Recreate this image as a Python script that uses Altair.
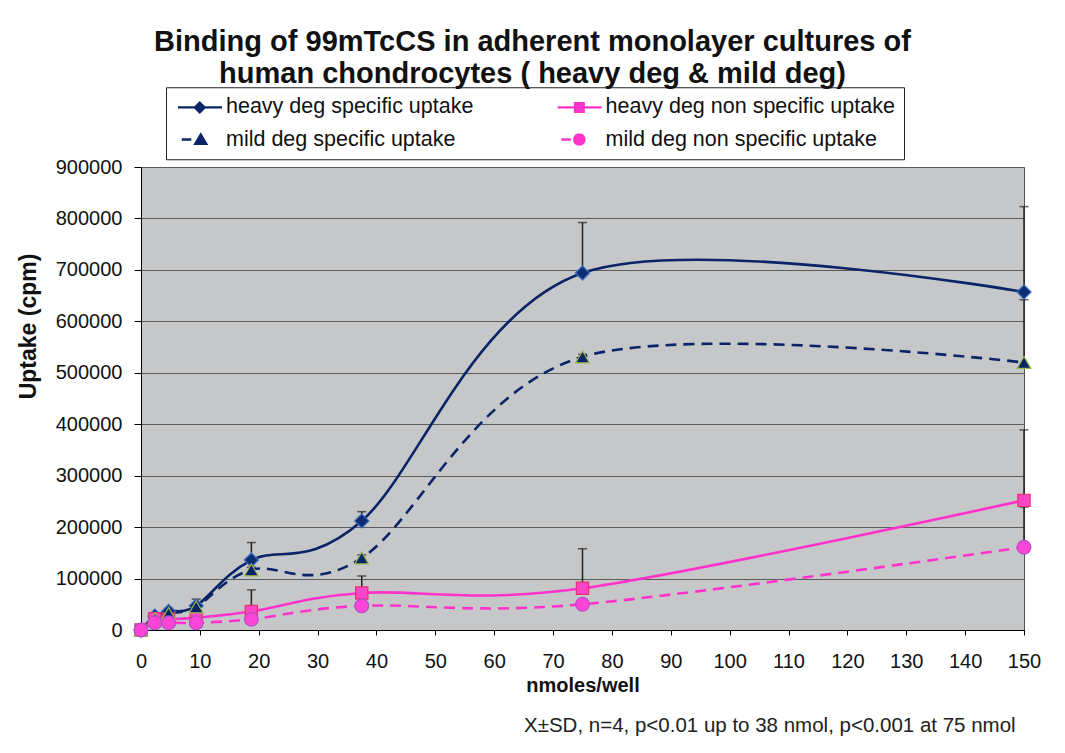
import altair as alt
import pandas as pd

# ---------------- data ----------------
title_lines = ["Binding of 99mTcCS in adherent monolayer cultures of",
               "human chondrocytes ( heavy deg & mild deg)"]
x_title = "nmoles/well"
y_title = "Uptake (cpm)"
footnote = "X\u00b1SD, n=4, p<0.01 up to 38 nmol, p<0.001 at 75 nmol"

series_names = ["heavy deg specific uptake", "heavy deg non specific uptake",
                "mild deg specific uptake", "mild deg non specific uptake"]

doses = [0, 2.34, 4.69, 9.38, 18.75, 37.5, 75, 150]

heavy_spec = [0, 27000, 36000, 47000, 136000, 212000, 694000, 657000]
heavy_nonspec = [0, 22000, 21000, 24000, 36000, 72000, 81000, 252000]
mild_spec = [0, 22000, 32000, 45000, 117000, 140000, 531000, 520000]
mild_nonspec = [0, 14000, 14000, 14000, 21000, 47000, 50000, 161000]

heavy_spec_sd = [0, 5000, 6000, 13000, 34000, 18000, 98000, 166000]
heavy_nonspec_sd = [0, 3000, 3000, 4000, 42000, 33000, 77000, 137000]
mild_spec_sd = [0, 3000, 4000, 5000, 5000, 6000, 5000, 122000]
mild_nonspec_sd = [0, 2000, 2000, 2000, 3000, 3000, 3000, 78000]

x_ticks = list(range(0, 151, 10))
y_ticks = list(range(0, 900001, 100000))

# ---------------- styling ----------------
FONT = "Liberation Sans"
NAVY = "#0A2468"
PINK = "#FF33CC"
line_colors = [NAVY, PINK, NAVY, PINK]
dashes = [None, None, [11, 7], [11, 7]]

marker_styles = {
    "heavy deg specific uptake": dict(shape="diamond", fill="#0D2D72", stroke="#3C6CC0", size=200),
    "heavy deg non specific uptake": dict(shape="square", fill="#FF44C8", stroke="#E8326E", size=150),
    "mild deg specific uptake": dict(shape="triangle-up", fill="#0A2468", stroke="#9BBB4C", size=190),
    "mild deg non specific uptake": dict(shape="circle", fill="#FF44D8", stroke="#B050C8", size=190),
}

# legend glyphs: short line segment + marker (unit = 10 px)
legend_paths = [
    "M-0.775,-0.12H3.625V0.12H-0.775Z M1.4,-0.65L2.05,0L1.4,0.65L0.75,0Z",
    "M-0.775,-0.12H3.625V0.12H-0.775Z M0.85,-0.55H1.95V0.55H0.85Z",
    "M-0.4,-0.12H0.55V0.12H-0.4Z M1.5,-0.72L2.25,0.55H0.75Z",
    "M-0.4,-0.12H0.55V0.12H-0.4Z M0.78,0A0.62,0.62 0 1,1 2.02,0A0.62,0.62 0 1,1 0.78,0Z",
]

# ---------------- table ----------------
rows = []
for name, ys, sds in [
    (series_names[0], heavy_spec, heavy_spec_sd),
    (series_names[1], heavy_nonspec, heavy_nonspec_sd),
    (series_names[2], mild_spec, mild_spec_sd),
    (series_names[3], mild_nonspec, mild_nonspec_sd),
]:
    for xv, yv, sv in zip(doses, ys, sds):
        rows.append({"series": name, "x": xv, "y": yv, "sd": sv, "upper": yv + sv})
df = pd.DataFrame(rows)

x_axis = alt.Axis(values=x_ticks, title=x_title, grid=False, labelFontSize=20,
                  labelFont=FONT, labelColor="#111", titleFont=FONT, titleFontSize=20,
                  titleFontWeight="bold", titleColor="#111", domainColor="#000",
                  tickColor="#000", tickSize=5, labelPadding=16, titlePadding=4,
                  labelFlush=False)
y_axis = alt.Axis(values=y_ticks, format="d", title=y_title, grid=True,
                  gridColor="#5C5C5C", gridWidth=1, labelFontSize=20, labelFont=FONT,
                  labelColor="#111", titleFont=FONT, titleFontSize=23,
                  titleFontWeight="bold", titleColor="#111", domainColor="#000",
                  tickColor="#000", tickSize=7, labelPadding=12,
                  titleX=-113, titleY=159, titleAngle=270, titleAlign="center",
                  titleBaseline="middle")

X = alt.X("x:Q", scale=alt.Scale(domain=[0, 150], nice=False), axis=x_axis)
Y = alt.Y("y:Q", scale=alt.Scale(domain=[0, 900000], nice=False), axis=y_axis)

base = alt.Chart(df)

err_rules = base.transform_filter("datum.sd > 0").mark_rule(
    color="#222", strokeWidth=1.5).encode(x=X, y=Y, y2="upper:Q")
err_caps = base.transform_filter("datum.sd > 0").mark_tick(
    orient="horizontal", color="#222", thickness=1.5, size=9).encode(
    x=X, y=alt.Y("upper:Q", scale=alt.Scale(domain=[0, 900000], nice=False), axis=y_axis))

line_layers = []
for name, col, dash in zip(series_names, line_colors, dashes):
    kw = dict(interpolate="cardinal", strokeWidth=2.6, color=col)
    if dash is not None:
        kw["strokeDash"] = dash
    line_layers.append(
        base.transform_filter(alt.datum.series == name).mark_line(**kw).encode(x=X, y=Y)
    )

point_layers = []
for name in series_names:
    st = marker_styles[name]
    point_layers.append(
        base.transform_filter(alt.datum.series == name).mark_point(
            shape=st["shape"], filled=True, fill=st["fill"], stroke=st["stroke"],
            strokeWidth=1.2, size=st["size"], opacity=1).encode(x=X, y=Y)
    )

legend_spec = alt.Legend(
    title=None, orient="none", legendX=25, legendY=-79.75, columns=2,
    direction="horizontal", labelLimit=0,
    labelFont=FONT, labelFontSize=21.5, labelColor="#111", symbolSize=400,
    symbolStrokeWidth=0, symbolOpacity=1, labelOffset=29.5, columnPadding=80.6,
    rowPadding=9.5, padding=9, strokeColor="#222", fillColor="white",
)
legend_layer = base.transform_filter("false").mark_point(filled=True, opacity=1).encode(
    x=X, y=Y,
    color=alt.Color("series:N", scale=alt.Scale(domain=series_names, range=line_colors),
                    legend=legend_spec),
    shape=alt.Shape("series:N", scale=alt.Scale(domain=series_names, range=legend_paths),
                    legend=legend_spec),
)

foot = alt.Chart(pd.DataFrame({"t": [footnote]})).mark_text(
    align="left", baseline="alphabetic", font=FONT, fontSize=20.5, color="#222").encode(
    x=alt.value(383), y=alt.value(565), text="t:N")

chart = alt.layer(
    err_rules, err_caps, *line_layers, *point_layers, legend_layer, foot
).properties(
    width=883, height=463,
    padding={"left": 133, "top": 159, "right": 30, "bottom": 110},
    autosize=alt.AutoSizeParams(type="none"),
    background="white",
    title=alt.TitleParams(text=title_lines, font=FONT, fontSize=29, fontWeight="bold",
                          color="#111", anchor="middle", frame="group", dx=-50,
                          offset=-2, lineHeight=32),
).configure_view(fill="#C6C7C9", stroke="#555", strokeWidth=1)

chart.save("out.html", embed_options={"renderer": "svg", "actions": False})
